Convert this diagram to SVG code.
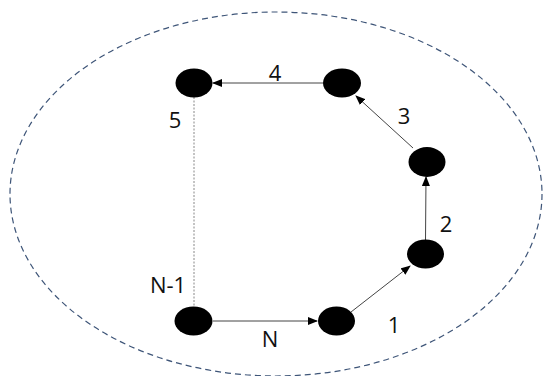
<svg xmlns="http://www.w3.org/2000/svg" width="547" height="376" viewBox="0 0 547 376">
<style>
.node{fill:#000}
.edge{stroke:#444;stroke-width:1;fill:none;marker-end:url(#ah)}
.dot{stroke:#888;stroke-width:1;stroke-dasharray:2,1.5;fill:none}
.lbl{font-family:"Open Sans","Liberation Sans",sans-serif;font-size:22px;fill:#111;text-anchor:middle}
</style>
<defs>
<marker id="ah" markerWidth="10" markerHeight="8" refX="9" refY="4" orient="auto" markerUnits="userSpaceOnUse">
<path d="M0,0 L10,4 L0,8 Z" fill="#000"/>
</marker>
</defs>
<rect width="547" height="376" fill="#fff"/>
<ellipse cx="276" cy="194" rx="266" ry="182" fill="none" stroke="#3E5578" stroke-width="1.2" stroke-dasharray="6,4"/>
<g id="connectors">
<line class="edge" x1="213" y1="321" x2="317" y2="321"/>
<line class="edge" x1="351" y1="312" x2="410" y2="266"/>
<line class="edge" x1="425.5" y1="240" x2="426" y2="177"/>
<line class="edge" x1="413" y1="148" x2="356" y2="96"/>
<line class="edge" x1="323" y1="83" x2="213" y2="83"/>
<line class="dot" x1="194" y1="97" x2="194" y2="307"/>
</g>
<g id="n5"><ellipse class="node" cx="194" cy="83" rx="18.5" ry="14.5"/><text class="lbl" x="175" y="128">5</text></g>
<g id="n4"><ellipse class="node" cx="342" cy="83" rx="19" ry="14.5"/><text class="lbl" x="275" y="81">4</text></g>
<g id="n3"><ellipse class="node" cx="427" cy="162" rx="18.5" ry="15"/><text class="lbl" x="404" y="124">3</text></g>
<g id="n2"><ellipse class="node" cx="425.5" cy="254" rx="18.5" ry="14.5"/><text class="lbl" x="446" y="232">2</text></g>
<g id="n1"><ellipse class="node" cx="336.5" cy="321" rx="18.5" ry="14.5"/><text class="lbl" x="394" y="333">1</text></g>
<g id="nN1"><ellipse class="node" cx="193.5" cy="321" rx="19" ry="14.5"/><text class="lbl" x="168" y="293">N-1</text></g>
<g id="lblN"><text class="lbl" x="270" y="347">N</text></g>
</svg>
